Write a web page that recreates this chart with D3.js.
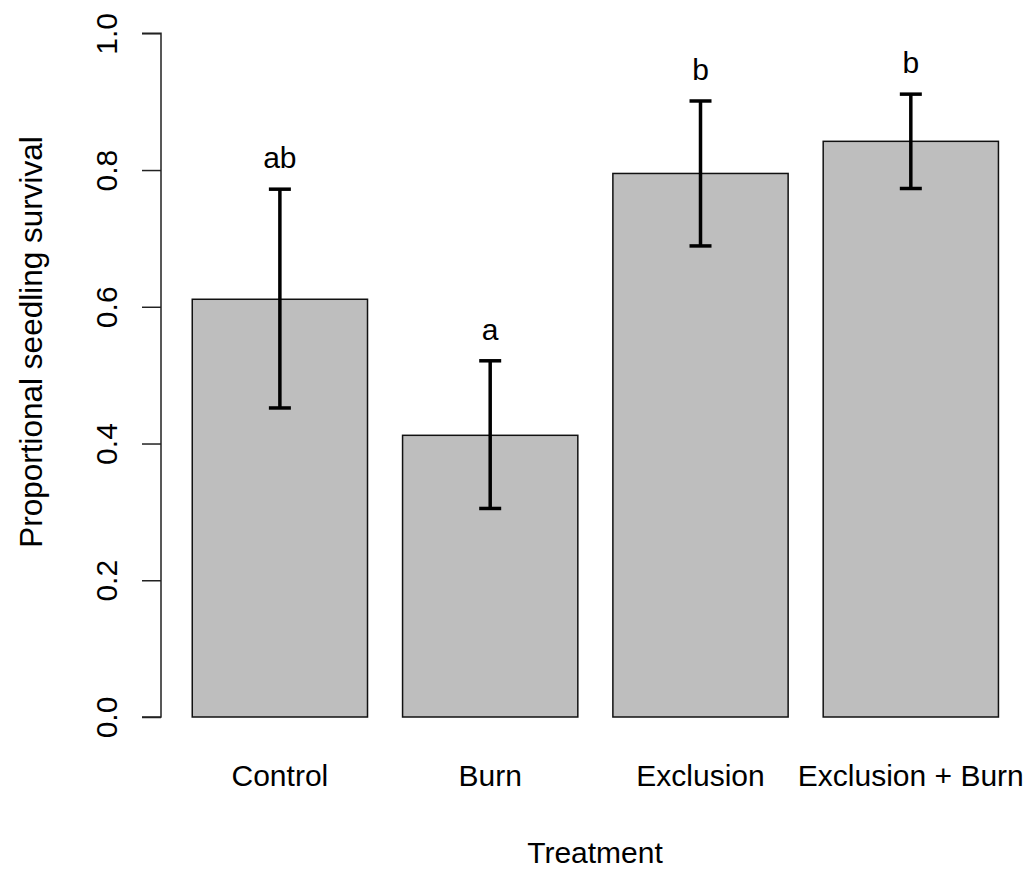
<!DOCTYPE html>
<html>
<head>
<meta charset="utf-8">
<script src="https://cdn.jsdelivr.net/npm/d3@7"></script>
<style>
  html, body { margin: 0; padding: 0; background: #fff; }
  svg text { font-family: "Liberation Sans", Arial, sans-serif; fill: #000; }
</style>
</head>
<body>
<svg id="chart" width="1029" height="874"></svg>
<script>
const categories = ["Control", "Burn", "Exclusion", "Exclusion + Burn"];
const means = [0.611, 0.412, 0.795, 0.842];
const errLow = [0.452, 0.305, 0.689, 0.773];
const errHigh = [0.772, 0.521, 0.901, 0.911];
const letters = ["ab", "a", "b", "b"];
const yTicks = [0, 0.2, 0.4, 0.6, 0.8, 1.0];

const svg = d3.select("#chart");
const W = 1029, H = 874;
svg.append("rect").attr("width", W).attr("height", H).attr("fill", "#fff");

const x = d3.scaleBand().domain(categories).range([157.2, 1033.5])
  .paddingInner(1/6).paddingOuter(1/6);
const y = d3.scaleLinear().domain([0, 1]).range([717, 33.3]);

const fs = 30;

// bars
svg.append("g").selectAll("rect").data(categories).join("rect")
  .attr("x", d => x(d))
  .attr("y", (d, i) => y(means[i]))
  .attr("width", x.bandwidth())
  .attr("height", (d, i) => y(0) - y(means[i]))
  .attr("fill", "#bebebe")
  .attr("stroke", "#111")
  .attr("stroke-width", 1.5);

// error bars
const eg = svg.append("g").attr("stroke", "#000").attr("stroke-width", 3.5).attr("fill", "none");
categories.forEach((c, i) => {
  const cx = x(c) + x.bandwidth() / 2;
  eg.append("line").attr("x1", cx).attr("x2", cx).attr("y1", y(errLow[i])).attr("y2", y(errHigh[i]));
  eg.append("line").attr("x1", cx - 11).attr("x2", cx + 11).attr("y1", y(errHigh[i])).attr("y2", y(errHigh[i]));
  eg.append("line").attr("x1", cx - 11).attr("x2", cx + 11).attr("y1", y(errLow[i])).attr("y2", y(errLow[i]));
});

// letters
svg.append("g").selectAll("text").data(categories).join("text")
  .attr("x", d => x(d) + x.bandwidth() / 2)
  .attr("y", (d, i) => y(errHigh[i]) - 21)
  .attr("text-anchor", "middle")
  .attr("font-size", fs)
  .text((d, i) => letters[i]);

// y axis
const ya = svg.append("g").attr("transform", "translate(161,0)")
  .call(d3.axisLeft(y).tickValues(yTicks).tickFormat(d3.format(".1f")).tickSize(19).tickPadding(0));
ya.select(".domain").attr("stroke", "#222").attr("stroke-width", 1.5).attr("d", `M-19,${y(1)}H0V${y(0)}H-19`);
ya.selectAll(".tick line").attr("stroke", "#222").attr("stroke-width", 1.5);
ya.selectAll(".tick text")
  .attr("font-size", fs)
  .attr("font-family", "Liberation Sans, Arial, sans-serif")
  .attr("fill", "#000")
  .attr("text-anchor", "middle")
  .attr("x", null).attr("dy", null)
  .attr("transform", "translate(-44,0) rotate(-90)");

// x category labels
svg.append("g").selectAll("text").data(categories).join("text")
  .attr("x", d => x(d) + x.bandwidth() / 2)
  .attr("y", 786)
  .attr("text-anchor", "middle")
  .attr("font-size", fs)
  .text(d => d);

// axis titles
svg.append("text").attr("x", 595).attr("y", 863).attr("text-anchor", "middle")
  .attr("font-size", fs).text("Treatment");
svg.append("text").attr("transform", `translate(42,342) rotate(-90)`)
  .attr("text-anchor", "middle").attr("font-size", 31.5).text("Proportional seedling survival");
</script>
</body>
</html>
